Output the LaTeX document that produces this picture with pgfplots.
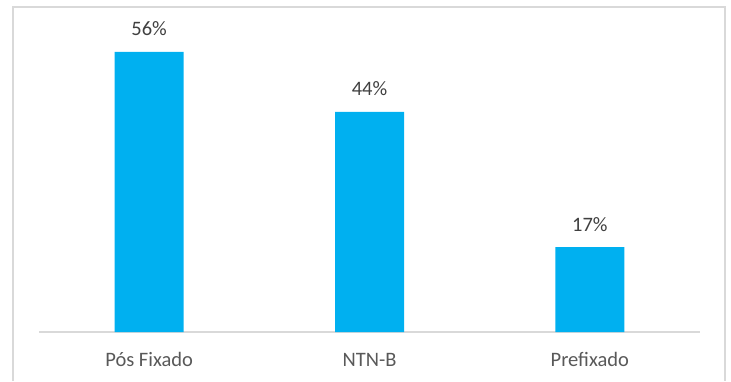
\documentclass[border=0pt]{standalone}
\usepackage{fontspec}
\setmainfont{Carlito}
\usepackage{pgfplots}
\pgfplotsset{compat=1.18}
\definecolor{barblue}{HTML}{00B0F0}
\definecolor{axgray}{HTML}{D9D9D9}
\definecolor{labgray}{HTML}{595959}
\definecolor{datgray}{HTML}{404040}
\begin{document}
\begin{tikzpicture}
\useasboundingbox (0,0) rectangle (731pt,381pt);
\draw[axgray, line width=1.2pt] (13pt,0pt) -- (13pt,374pt) -- (725pt,374pt) -- (725pt,0pt);
\begin{axis}[
  at={(39pt,49pt)}, anchor=south west,
  scale only axis,
  width=661pt, height=300pt,
  xmin=-0.5, xmax=2.5, ymin=0, ymax=60,
  axis y line=none,
  axis x line*=bottom,
  x axis line style={axgray, line width=1.2pt},
  xtick={0,1,2},
  xticklabels={Pós Fixado, NTN-B, Prefixado},
  major tick length=0pt,
  /pgf/number format/assume math mode=true,
  xticklabel style={font=\fontsize{20.5}{24}\selectfont, text=labgray, anchor=base, yshift=-34pt, inner sep=0pt},
  ybar, bar width=69pt,
  nodes near coords={\pgfmathprintnumber[fixed,precision=0,assume math mode=true]{\pgfplotspointmeta}\%},
  every node near coord/.append style={font=\fontsize{20.5}{24}\selectfont, text=datgray, anchor=base, inner sep=0pt, yshift=16pt},
  clip=false,
]
\addplot[fill=barblue, draw=none] coordinates {(0,56) (1,44) (2,17)};
\end{axis}
\end{tikzpicture}
\end{document}
